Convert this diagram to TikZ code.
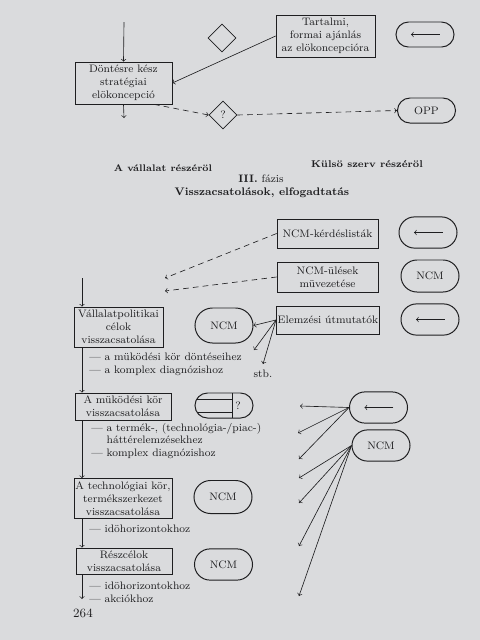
\documentclass[tikz,border=0pt]{standalone}
\usepackage{fontspec}
\usetikzlibrary{shapes, arrows, positioning, shapes.geometric, calc}
\definecolor{paper}{RGB}{218,219,221}
\definecolor{ink}{RGB}{30,30,32}

\begin{document}
\begin{tikzpicture}[x=0.025cm, y=-0.025cm, font=\fontsize{7.7}{9.2}\selectfont, text=ink]
  \tikzstyle{box} = [draw=ink, rectangle, line width=0.5pt, align=center, inner sep=1pt]
  \tikzstyle{pill} = [draw=ink, rounded rectangle, line width=0.7pt, minimum width=1.45cm, minimum height=0.78cm, inner sep=0pt]
  \tikzstyle{backpill} = [pill, path picture={\draw[->, ink, line width=0.45pt] ([xshift=0.37cm]path picture bounding box.center) -- ([xshift=-0.35cm]path picture bounding box.center);}]
  \tikzstyle{filepill} = [pill, path picture={
      \draw[ink, line width=0.5pt] ([xshift=0.2cm]path picture bounding box.north) -- ([xshift=0.2cm]path picture bounding box.south);
      \draw[ink, line width=0.5pt] ([yshift=0.16cm]path picture bounding box.west) -- ++(0.925cm,0);
      \draw[ink, line width=0.5pt] ([yshift=-0.16cm]path picture bounding box.west) -- ++(0.925cm,0);
      \node at ([xshift=0.35cm]path picture bounding box.center) {?};}]
  \tikzstyle{rhomb} = [draw=ink, diamond, line width=0.5pt, minimum size=0.7cm, inner sep=0pt]
  \tikzstyle{link} = [->, draw=ink, line width=0.45pt]
  \tikzstyle{dlink} = [link, dash pattern=on 4pt off 3pt]
  \tikzstyle{note} = [align=left, anchor=west, inner sep=0pt]

  \fill[paper] (0,0) rectangle (480,640);
  \useasboundingbox (0,0) rectangle (480,640);

  % upper part
  \coordinate (dtop) at (124,22);
  \coordinate (dbot) at (124,118);
  \node[box, minimum width=2.425cm, minimum height=1.05cm] (dontes) at (123.5,83) {Döntésre kész\\stratégiai\\elökoncepció};
  \node[rhomb] (blank) at (222,38) {};
  \node[rhomb] (quest) at (223,115) {?};
  \node[box, minimum width=2.475cm, minimum height=1.05cm] (tart) at (325.5,36) {Tartalmi,\\formai ajánlás\\az elökoncepcióra};
  \node[backpill, minimum height=0.625cm] (back1) at (425,34.5) {};
  \node[pill, minimum height=0.625cm] (opp) at (426.5,110.5) {OPP};

  \draw[link] (dtop) -- (dontes.north);
  \draw[link] (dontes.south) -- (dbot);
  \draw[link] (tart.west) -- (dontes.east);
  \draw[dlink] (dontes.-35) -- (quest.west);
  \draw[dlink] (quest.east) -- (opp.west);

  % headings
  \node[font=\bfseries\fontsize{6.8}{8}\selectfont] (ownside) at (163,168) {A vállalat részéröl};
  \node[font=\bfseries\fontsize{7}{8}\selectfont] (extside) at (367,164) {Külsö szerv részéröl};
  \node (phase) at (261,179) {\textbf{III.} fázis};
  \node[font=\bfseries\fontsize{7.8}{9}\selectfont] (title) at (262,193) {Visszacsatolások, elfogadtatás};

  % external tools
  \node[box, minimum width=2.525cm, minimum height=0.725cm] (kerd) at (327.5,233.5) {NCM-kérdéslisták};
  \node[backpill] (back2) at (428,232.5) {};
  \node[box, minimum width=2.525cm, minimum height=0.75cm] (ules) at (327.5,277) {NCM-ülések\\müvezetése};
  \node[pill, minimum height=0.8cm] (ncm1) at (430,276) {NCM};
  \node[box, minimum width=2.55cm, minimum height=0.7cm] (elem) at (328,320) {Elemzési útmutatók};
  \node[backpill] (back3) at (430,319.5) {};

  \coordinate (kerdend) at (165,278);
  \coordinate (ulesend) at (165,291);
  \draw[dlink] (kerd.west) -- (kerdend);
  \draw[dlink] (ules.west) -- (ulesend);

  % feedback steps
  \node[box, minimum width=2.225cm, minimum height=1cm] (valpol) at (118.5,327) {Vállalatpolitikai\\célok\\visszacsatolása};
  \node[pill, minimum height=0.875cm] (ncm2) at (224,325.5) {NCM};
  \node[note] (notes1) at (89,364.5) {— a müködési kör döntéseihez\\— a komplex diagnózishoz};
  \coordinate (stbA) at (254,350);
  \coordinate (stbB) at (263,364);
  \node (stb) at (263,374) {stb.};
  \draw[link] (elem.west) -- (ncm2.east);
  \draw[link] (elem.west) -- (stbA);
  \draw[link] (elem.west) -- (stbB);

  \node[box, minimum width=2.4cm, minimum height=0.675cm] (mukod) at (123,406.5) {A müködési kör\\visszacsatolása};
  \node[filepill, minimum height=0.625cm] (qpill) at (224,405.5) {};
  \node[note] (notes2) at (91,441) {— a termék-, (technológia-/piac-)\\\phantom{— }háttérelemzésekhez\\— komplex diagnózishoz};

  \node[box, minimum width=2.4cm, minimum height=1cm] (techn) at (123,498.5) {A technológiai kör,\\termékszerkezet\\visszacsatolása};
  \node[pill, minimum height=0.825cm] (ncm4) at (223,497) {NCM};
  \node[note] (notes3) at (89,529) {— idöhorizontokhoz};

  \node[box, minimum width=2.4cm, minimum height=0.65cm] (reszc) at (124,561) {Részcélok\\visszacsatolása};
  \node[pill] (ncm5) at (223.5,564.5) {NCM};
  \node[note] (notes4) at (89,592) {— idöhorizontokhoz\\— akciókhoz};
  \node[font=\fontsize{9}{10}\selectfont] (page) at (83,613) {264};

  \coordinate (vtop) at (82,278);
  \coordinate (vend) at (82,599);
  \draw[link] (vtop) -- (vtop |- valpol.north);
  \draw[link] (valpol.south -| vtop) -- (mukod.north -| vtop);
  \draw[link] (mukod.south -| vtop) -- (techn.north -| vtop);
  \draw[link] (techn.south -| vtop) -- (reszc.north -| vtop);
  \draw[link] (reszc.south -| vtop) -- (vend);

  % right fan
  \node[backpill] (back4) at (378.5,407.5) {};
  \node[pill] (ncm3) at (381,445.5) {NCM};
  \coordinate (f1) at (300,406);
  \coordinate (f2) at (298,433);
  \coordinate (f3) at (299,459);
  \coordinate (f4) at (299,478);
  \coordinate (f5) at (299,503);
  \coordinate (f6) at (299,546);
  \coordinate (f7) at (299,596);
  \draw[link] (back4.west) -- (f1);
  \draw[link] (back4.west) -- (f2);
  \draw[link] (back4.west) -- (f3);
  \draw[link] (ncm3.west) -- (f4);
  \draw[link] (ncm3.west) -- (f5);
  \draw[link] (ncm3.west) -- (f6);
  \draw[link] (ncm3.west) -- (f7);
\end{tikzpicture}
\end{document}
